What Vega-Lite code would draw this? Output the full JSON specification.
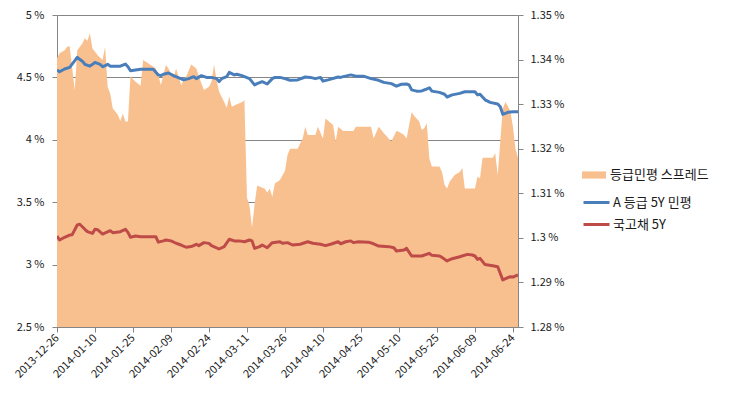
{
  "$schema": "https://vega.github.io/schema/vega-lite/v6.json",
  "autosize": {"type": "none"},
  "width": 461,
  "height": 312,
  "padding": {"left": 57, "top": 15, "right": 216, "bottom": 74},
  "background": "white",
  "config": {
    "font": "Noto Sans CJK KR",
    "view": {"stroke": null},
    "axis": {"labelFont": "Noto Sans CJK KR", "labelFontSize": 11, "labelColor": "#1a1a1a", "domainColor": "#868686", "tickColor": "#868686", "gridColor": "#868686", "gridOpacity": 1, "title": null},
    "legend": {"labelFont": "Noto Sans CJK KR", "labelFontSize": 13, "labelColor": "#1a1a1a"}
  },
  "datasets": {
    "spread": [
      {"date": "2013-12-26", "s": "등급민평 스프레드", "v": 1.3403},
      {"date": "2013-12-27", "s": "등급민평 스프레드", "v": 1.3414},
      {"date": "2013-12-29", "s": "등급민평 스프레드", "v": 1.3421},
      {"date": "2013-12-30", "s": "등급민평 스프레드", "v": 1.3429},
      {"date": "2013-12-31", "s": "등급민평 스프레드", "v": 1.343},
      {"date": "2014-01-02", "s": "등급민평 스프레드", "v": 1.3332},
      {"date": "2014-01-03", "s": "등급민평 스프레드", "v": 1.3421},
      {"date": "2014-01-05", "s": "등급민평 스프레드", "v": 1.3436},
      {"date": "2014-01-06", "s": "등급민평 스프레드", "v": 1.3448},
      {"date": "2014-01-07", "s": "등급민평 스프레드", "v": 1.3442},
      {"date": "2014-01-08", "s": "등급민평 스프레드", "v": 1.3459},
      {"date": "2014-01-09", "s": "등급민평 스프레드", "v": 1.3425},
      {"date": "2014-01-11", "s": "등급민평 스프레드", "v": 1.341},
      {"date": "2014-01-13", "s": "등급민평 스프레드", "v": 1.3399},
      {"date": "2014-01-14", "s": "등급민평 스프레드", "v": 1.3429},
      {"date": "2014-01-15", "s": "등급민평 스프레드", "v": 1.3339},
      {"date": "2014-01-16", "s": "등급민평 스프레드", "v": 1.3324},
      {"date": "2014-01-17", "s": "등급민평 스프레드", "v": 1.3291},
      {"date": "2014-01-19", "s": "등급민평 스프레드", "v": 1.3276},
      {"date": "2014-01-20", "s": "등급민평 스프레드", "v": 1.3262},
      {"date": "2014-01-21", "s": "등급민평 스프레드", "v": 1.3279},
      {"date": "2014-01-22", "s": "등급민평 스프레드", "v": 1.3261},
      {"date": "2014-01-23", "s": "등급민평 스프레드", "v": 1.3261},
      {"date": "2014-01-24", "s": "등급민평 스프레드", "v": 1.3362},
      {"date": "2014-01-26", "s": "등급민평 스프레드", "v": 1.335},
      {"date": "2014-01-28", "s": "등급민평 스프레드", "v": 1.3341},
      {"date": "2014-01-29", "s": "등급민평 스프레드", "v": 1.3399},
      {"date": "2014-01-31", "s": "등급민평 스프레드", "v": 1.3392},
      {"date": "2014-02-03", "s": "등급민평 스프레드", "v": 1.338},
      {"date": "2014-02-04", "s": "등급민평 스프레드", "v": 1.3365},
      {"date": "2014-02-05", "s": "등급민평 스프레드", "v": 1.3343},
      {"date": "2014-02-07", "s": "등급민평 스프레드", "v": 1.3388},
      {"date": "2014-02-08", "s": "등급민평 스프레드", "v": 1.338},
      {"date": "2014-02-10", "s": "등급민평 스프레드", "v": 1.3358},
      {"date": "2014-02-11", "s": "등급민평 스프레드", "v": 1.338},
      {"date": "2014-02-13", "s": "등급민평 스프레드", "v": 1.3343},
      {"date": "2014-02-15", "s": "등급민평 스프레드", "v": 1.3362},
      {"date": "2014-02-17", "s": "등급민평 스프레드", "v": 1.3389},
      {"date": "2014-02-19", "s": "등급민평 스프레드", "v": 1.338},
      {"date": "2014-02-20", "s": "등급민평 스프레드", "v": 1.3362},
      {"date": "2014-02-22", "s": "등급민평 스프레드", "v": 1.3332},
      {"date": "2014-02-24", "s": "등급민평 스프레드", "v": 1.3339},
      {"date": "2014-02-25", "s": "등급민평 스프레드", "v": 1.335},
      {"date": "2014-02-26", "s": "등급민평 스프레드", "v": 1.3389},
      {"date": "2014-02-27", "s": "등급민평 스프레드", "v": 1.3354},
      {"date": "2014-02-28", "s": "등급민평 스프레드", "v": 1.3328},
      {"date": "2014-03-02", "s": "등급민평 스프레드", "v": 1.3305},
      {"date": "2014-03-03", "s": "등급민평 스프레드", "v": 1.3292},
      {"date": "2014-03-04", "s": "등급민평 스프레드", "v": 1.3317},
      {"date": "2014-03-05", "s": "등급민평 스프레드", "v": 1.3294},
      {"date": "2014-03-07", "s": "등급민평 스프레드", "v": 1.33},
      {"date": "2014-03-09", "s": "등급민평 스프레드", "v": 1.3304},
      {"date": "2014-03-10", "s": "등급민평 스프레드", "v": 1.3309},
      {"date": "2014-03-11", "s": "등급민평 스프레드", "v": 1.309},
      {"date": "2014-03-12", "s": "등급민평 스프레드", "v": 1.3072},
      {"date": "2014-03-13", "s": "등급민평 스프레드", "v": 1.3023},
      {"date": "2014-03-14", "s": "등급민평 스프레드", "v": 1.3075},
      {"date": "2014-03-15", "s": "등급민평 스프레드", "v": 1.3117},
      {"date": "2014-03-16", "s": "등급민평 스프레드", "v": 1.3115},
      {"date": "2014-03-18", "s": "등급민평 스프레드", "v": 1.311},
      {"date": "2014-03-19", "s": "등급민평 스프레드", "v": 1.3102},
      {"date": "2014-03-20", "s": "등급민평 스프레드", "v": 1.3111},
      {"date": "2014-03-21", "s": "등급민평 스프레드", "v": 1.3092},
      {"date": "2014-03-22", "s": "등급민평 스프레드", "v": 1.3122},
      {"date": "2014-03-24", "s": "등급민평 스프레드", "v": 1.313},
      {"date": "2014-03-26", "s": "등급민평 스프레드", "v": 1.315},
      {"date": "2014-03-27", "s": "등급민평 스프레드", "v": 1.3186},
      {"date": "2014-03-28", "s": "등급민평 스프레드", "v": 1.32},
      {"date": "2014-03-31", "s": "등급민평 스프레드", "v": 1.32},
      {"date": "2014-04-02", "s": "등급민평 스프레드", "v": 1.3223},
      {"date": "2014-04-03", "s": "등급민평 스프레드", "v": 1.3249},
      {"date": "2014-04-04", "s": "등급민평 스프레드", "v": 1.3231},
      {"date": "2014-04-07", "s": "등급민평 스프레드", "v": 1.3231},
      {"date": "2014-04-08", "s": "등급민평 스프레드", "v": 1.3249},
      {"date": "2014-04-10", "s": "등급민평 스프레드", "v": 1.3223},
      {"date": "2014-04-11", "s": "등급민평 스프레드", "v": 1.3268},
      {"date": "2014-04-14", "s": "등급민평 스프레드", "v": 1.3253},
      {"date": "2014-04-15", "s": "등급민평 스프레드", "v": 1.3216},
      {"date": "2014-04-16", "s": "등급민평 스프레드", "v": 1.3249},
      {"date": "2014-04-18", "s": "등급민평 스프레드", "v": 1.324},
      {"date": "2014-04-22", "s": "등급민평 스프레드", "v": 1.324},
      {"date": "2014-04-23", "s": "등급민평 스프레드", "v": 1.3249},
      {"date": "2014-04-29", "s": "등급민평 스프레드", "v": 1.3249},
      {"date": "2014-04-30", "s": "등급민평 스프레드", "v": 1.3223},
      {"date": "2014-05-02", "s": "등급민평 스프레드", "v": 1.3249},
      {"date": "2014-05-04", "s": "등급민평 스프레드", "v": 1.3235},
      {"date": "2014-05-07", "s": "등급민평 스프레드", "v": 1.3216},
      {"date": "2014-05-09", "s": "등급민평 스프레드", "v": 1.324},
      {"date": "2014-05-10", "s": "등급민평 스프레드", "v": 1.3238},
      {"date": "2014-05-12", "s": "등급민평 스프레드", "v": 1.3231},
      {"date": "2014-05-13", "s": "등급민평 스프레드", "v": 1.3223},
      {"date": "2014-05-15", "s": "등급민평 스프레드", "v": 1.3282},
      {"date": "2014-05-16", "s": "등급민평 스프레드", "v": 1.3274},
      {"date": "2014-05-18", "s": "등급민평 스프레드", "v": 1.3261},
      {"date": "2014-05-19", "s": "등급민평 스프레드", "v": 1.3242},
      {"date": "2014-05-20", "s": "등급민평 스프레드", "v": 1.3246},
      {"date": "2014-05-21", "s": "등급민평 스프레드", "v": 1.3257},
      {"date": "2014-05-22", "s": "등급민평 스프레드", "v": 1.3178},
      {"date": "2014-05-23", "s": "등급민평 스프레드", "v": 1.316},
      {"date": "2014-05-26", "s": "등급민평 스프레드", "v": 1.316},
      {"date": "2014-05-27", "s": "등급민평 스프레드", "v": 1.3148},
      {"date": "2014-05-28", "s": "등급민평 스프레드", "v": 1.3119},
      {"date": "2014-05-29", "s": "등급민평 스프레드", "v": 1.3111},
      {"date": "2014-05-30", "s": "등급민평 스프레드", "v": 1.3126},
      {"date": "2014-06-01", "s": "등급민평 스프레드", "v": 1.3141},
      {"date": "2014-06-03", "s": "등급민평 스프레드", "v": 1.3148},
      {"date": "2014-06-04", "s": "등급민평 스프레드", "v": 1.3157},
      {"date": "2014-06-05", "s": "등급민평 스프레드", "v": 1.3111},
      {"date": "2014-06-09", "s": "등급민평 스프레드", "v": 1.3111},
      {"date": "2014-06-10", "s": "등급민평 스프레드", "v": 1.3137},
      {"date": "2014-06-11", "s": "등급민평 스프레드", "v": 1.3134},
      {"date": "2014-06-12", "s": "등급민평 스프레드", "v": 1.318},
      {"date": "2014-06-16", "s": "등급민평 스프레드", "v": 1.318},
      {"date": "2014-06-17", "s": "등급민평 스프레드", "v": 1.319},
      {"date": "2014-06-18", "s": "등급민평 스프레드", "v": 1.3141},
      {"date": "2014-06-19", "s": "등급민평 스프레드", "v": 1.3216},
      {"date": "2014-06-20", "s": "등급민평 스프레드", "v": 1.329},
      {"date": "2014-06-21", "s": "등급민평 스프레드", "v": 1.3305},
      {"date": "2014-06-22", "s": "등급민평 스프레드", "v": 1.3296},
      {"date": "2014-06-23", "s": "등급민평 스프레드", "v": 1.3283},
      {"date": "2014-06-24", "s": "등급민평 스프레드", "v": 1.325},
      {"date": "2014-06-25", "s": "등급민평 스프레드", "v": 1.32},
      {"date": "2014-06-26", "s": "등급민평 스프레드", "v": 1.318}
    ],
    "lines": [
      {"date": "2013-12-26", "s": "A 등급 5Y 민평", "v": 4.56},
      {"date": "2013-12-27", "s": "A 등급 5Y 민평", "v": 4.545},
      {"date": "2013-12-29", "s": "A 등급 5Y 민평", "v": 4.567},
      {"date": "2013-12-31", "s": "A 등급 5Y 민평", "v": 4.58},
      {"date": "2014-01-03", "s": "A 등급 5Y 민평", "v": 4.66},
      {"date": "2014-01-05", "s": "A 등급 5Y 민평", "v": 4.63},
      {"date": "2014-01-06", "s": "A 등급 5Y 민평", "v": 4.605},
      {"date": "2014-01-08", "s": "A 등급 5Y 민평", "v": 4.59},
      {"date": "2014-01-10", "s": "A 등급 5Y 민평", "v": 4.62},
      {"date": "2014-01-12", "s": "A 등급 5Y 민평", "v": 4.605},
      {"date": "2014-01-13", "s": "A 등급 5Y 민평", "v": 4.585},
      {"date": "2014-01-15", "s": "A 등급 5Y 민평", "v": 4.605},
      {"date": "2014-01-16", "s": "A 등급 5Y 민평", "v": 4.59},
      {"date": "2014-01-20", "s": "A 등급 5Y 민평", "v": 4.59},
      {"date": "2014-01-22", "s": "A 등급 5Y 민평", "v": 4.607},
      {"date": "2014-01-23", "s": "A 등급 5Y 민평", "v": 4.585},
      {"date": "2014-01-24", "s": "A 등급 5Y 민평", "v": 4.554},
      {"date": "2014-01-28", "s": "A 등급 5Y 민평", "v": 4.565},
      {"date": "2014-02-02", "s": "A 등급 5Y 민평", "v": 4.565},
      {"date": "2014-02-04", "s": "A 등급 5Y 민평", "v": 4.52},
      {"date": "2014-02-05", "s": "A 등급 5Y 민평", "v": 4.514},
      {"date": "2014-02-06", "s": "A 등급 5Y 민평", "v": 4.525},
      {"date": "2014-02-08", "s": "A 등급 5Y 민평", "v": 4.535},
      {"date": "2014-02-10", "s": "A 등급 5Y 민평", "v": 4.514},
      {"date": "2014-02-14", "s": "A 등급 5Y 민평", "v": 4.48},
      {"date": "2014-02-16", "s": "A 등급 5Y 민평", "v": 4.49},
      {"date": "2014-02-18", "s": "A 등급 5Y 민평", "v": 4.506},
      {"date": "2014-02-19", "s": "A 등급 5Y 민평", "v": 4.49},
      {"date": "2014-02-21", "s": "A 등급 5Y 민평", "v": 4.514},
      {"date": "2014-02-23", "s": "A 등급 5Y 민평", "v": 4.5},
      {"date": "2014-02-25", "s": "A 등급 5Y 민평", "v": 4.5},
      {"date": "2014-02-27", "s": "A 등급 5Y 민평", "v": 4.49},
      {"date": "2014-02-28", "s": "A 등급 5Y 민평", "v": 4.466},
      {"date": "2014-03-01", "s": "A 등급 5Y 민평", "v": 4.49},
      {"date": "2014-03-03", "s": "A 등급 5Y 민평", "v": 4.506},
      {"date": "2014-03-04", "s": "A 등급 5Y 민평", "v": 4.54},
      {"date": "2014-03-06", "s": "A 등급 5Y 민평", "v": 4.52},
      {"date": "2014-03-07", "s": "A 등급 5Y 민평", "v": 4.525},
      {"date": "2014-03-09", "s": "A 등급 5Y 민평", "v": 4.514},
      {"date": "2014-03-12", "s": "A 등급 5Y 민평", "v": 4.49},
      {"date": "2014-03-14", "s": "A 등급 5Y 민평", "v": 4.44},
      {"date": "2014-03-15", "s": "A 등급 5Y 민평", "v": 4.45},
      {"date": "2014-03-17", "s": "A 등급 5Y 민평", "v": 4.466},
      {"date": "2014-03-19", "s": "A 등급 5Y 민평", "v": 4.447},
      {"date": "2014-03-21", "s": "A 등급 5Y 민평", "v": 4.49},
      {"date": "2014-03-22", "s": "A 등급 5Y 민평", "v": 4.5},
      {"date": "2014-03-24", "s": "A 등급 5Y 민평", "v": 4.5},
      {"date": "2014-03-26", "s": "A 등급 5Y 민평", "v": 4.49},
      {"date": "2014-03-28", "s": "A 등급 5Y 민평", "v": 4.477},
      {"date": "2014-03-31", "s": "A 등급 5Y 민평", "v": 4.48},
      {"date": "2014-04-03", "s": "A 등급 5Y 민평", "v": 4.503},
      {"date": "2014-04-05", "s": "A 등급 5Y 민평", "v": 4.5},
      {"date": "2014-04-07", "s": "A 등급 5Y 민평", "v": 4.49},
      {"date": "2014-04-09", "s": "A 등급 5Y 민평", "v": 4.5},
      {"date": "2014-04-10", "s": "A 등급 5Y 민평", "v": 4.47},
      {"date": "2014-04-12", "s": "A 등급 5Y 민평", "v": 4.48},
      {"date": "2014-04-16", "s": "A 등급 5Y 민평", "v": 4.503},
      {"date": "2014-04-17", "s": "A 등급 5Y 민평", "v": 4.5},
      {"date": "2014-04-18", "s": "A 등급 5Y 민평", "v": 4.506},
      {"date": "2014-04-21", "s": "A 등급 5Y 민평", "v": 4.52},
      {"date": "2014-04-23", "s": "A 등급 5Y 민평", "v": 4.51},
      {"date": "2014-04-26", "s": "A 등급 5Y 민평", "v": 4.51},
      {"date": "2014-04-29", "s": "A 등급 5Y 민평", "v": 4.49},
      {"date": "2014-05-02", "s": "A 등급 5Y 민평", "v": 4.477},
      {"date": "2014-05-04", "s": "A 등급 5Y 민평", "v": 4.46},
      {"date": "2014-05-07", "s": "A 등급 5Y 민평", "v": 4.45},
      {"date": "2014-05-09", "s": "A 등급 5Y 민평", "v": 4.43},
      {"date": "2014-05-11", "s": "A 등급 5Y 민평", "v": 4.445},
      {"date": "2014-05-13", "s": "A 등급 5Y 민평", "v": 4.447},
      {"date": "2014-05-14", "s": "A 등급 5Y 민평", "v": 4.44},
      {"date": "2014-05-15", "s": "A 등급 5Y 민평", "v": 4.4},
      {"date": "2014-05-17", "s": "A 등급 5Y 민평", "v": 4.39},
      {"date": "2014-05-19", "s": "A 등급 5Y 민평", "v": 4.392},
      {"date": "2014-05-21", "s": "A 등급 5Y 민평", "v": 4.407},
      {"date": "2014-05-22", "s": "A 등급 5Y 민평", "v": 4.417},
      {"date": "2014-05-23", "s": "A 등급 5Y 민평", "v": 4.39},
      {"date": "2014-05-26", "s": "A 등급 5Y 민평", "v": 4.38},
      {"date": "2014-05-28", "s": "A 등급 5Y 민평", "v": 4.365},
      {"date": "2014-05-29", "s": "A 등급 5Y 민평", "v": 4.343},
      {"date": "2014-05-31", "s": "A 등급 5Y 민평", "v": 4.36},
      {"date": "2014-06-03", "s": "A 등급 5Y 민평", "v": 4.372},
      {"date": "2014-06-05", "s": "A 등급 5Y 민평", "v": 4.385},
      {"date": "2014-06-09", "s": "A 등급 5Y 민평", "v": 4.385},
      {"date": "2014-06-10", "s": "A 등급 5Y 민평", "v": 4.36},
      {"date": "2014-06-11", "s": "A 등급 5Y 민평", "v": 4.365},
      {"date": "2014-06-13", "s": "A 등급 5Y 민평", "v": 4.32},
      {"date": "2014-06-15", "s": "A 등급 5Y 민평", "v": 4.3},
      {"date": "2014-06-18", "s": "A 등급 5Y 민평", "v": 4.287},
      {"date": "2014-06-19", "s": "A 등급 5Y 민평", "v": 4.265},
      {"date": "2014-06-20", "s": "A 등급 5Y 민평", "v": 4.204},
      {"date": "2014-06-22", "s": "A 등급 5Y 민평", "v": 4.22},
      {"date": "2014-06-24", "s": "A 등급 5Y 민평", "v": 4.225},
      {"date": "2014-06-26", "s": "A 등급 5Y 민평", "v": 4.225},
      {"date": "2013-12-26", "s": "국고채 5Y", "v": 3.229},
      {"date": "2013-12-27", "s": "국고채 5Y", "v": 3.197},
      {"date": "2013-12-29", "s": "국고채 5Y", "v": 3.219},
      {"date": "2013-12-31", "s": "국고채 5Y", "v": 3.237},
      {"date": "2014-01-01", "s": "국고채 5Y", "v": 3.24},
      {"date": "2014-01-03", "s": "국고채 5Y", "v": 3.317},
      {"date": "2014-01-04", "s": "국고채 5Y", "v": 3.323},
      {"date": "2014-01-06", "s": "국고채 5Y", "v": 3.283},
      {"date": "2014-01-07", "s": "국고채 5Y", "v": 3.264},
      {"date": "2014-01-09", "s": "국고채 5Y", "v": 3.25},
      {"date": "2014-01-10", "s": "국고채 5Y", "v": 3.283},
      {"date": "2014-01-11", "s": "국고채 5Y", "v": 3.28},
      {"date": "2014-01-13", "s": "국고채 5Y", "v": 3.245},
      {"date": "2014-01-16", "s": "국고채 5Y", "v": 3.272},
      {"date": "2014-01-17", "s": "국고채 5Y", "v": 3.256},
      {"date": "2014-01-20", "s": "국고채 5Y", "v": 3.264},
      {"date": "2014-01-22", "s": "국고채 5Y", "v": 3.283},
      {"date": "2014-01-23", "s": "국고채 5Y", "v": 3.258},
      {"date": "2014-01-24", "s": "국고채 5Y", "v": 3.219},
      {"date": "2014-01-26", "s": "국고채 5Y", "v": 3.229},
      {"date": "2014-01-28", "s": "국고채 5Y", "v": 3.224},
      {"date": "2014-02-03", "s": "국고채 5Y", "v": 3.224},
      {"date": "2014-02-04", "s": "국고채 5Y", "v": 3.18},
      {"date": "2014-02-06", "s": "국고채 5Y", "v": 3.19},
      {"date": "2014-02-07", "s": "국고채 5Y", "v": 3.197},
      {"date": "2014-02-09", "s": "국고채 5Y", "v": 3.19},
      {"date": "2014-02-11", "s": "국고채 5Y", "v": 3.171},
      {"date": "2014-02-13", "s": "국고채 5Y", "v": 3.157},
      {"date": "2014-02-15", "s": "국고채 5Y", "v": 3.139},
      {"date": "2014-02-17", "s": "국고채 5Y", "v": 3.145},
      {"date": "2014-02-19", "s": "국고채 5Y", "v": 3.163},
      {"date": "2014-02-20", "s": "국고채 5Y", "v": 3.152},
      {"date": "2014-02-22", "s": "국고채 5Y", "v": 3.176},
      {"date": "2014-02-24", "s": "국고채 5Y", "v": 3.17},
      {"date": "2014-02-25", "s": "국고채 5Y", "v": 3.152},
      {"date": "2014-02-28", "s": "국고채 5Y", "v": 3.125},
      {"date": "2014-03-02", "s": "국고채 5Y", "v": 3.144},
      {"date": "2014-03-04", "s": "국고채 5Y", "v": 3.203},
      {"date": "2014-03-06", "s": "국고채 5Y", "v": 3.19},
      {"date": "2014-03-08", "s": "국고채 5Y", "v": 3.19},
      {"date": "2014-03-10", "s": "국고채 5Y", "v": 3.183},
      {"date": "2014-03-12", "s": "국고채 5Y", "v": 3.197},
      {"date": "2014-03-13", "s": "국고채 5Y", "v": 3.19},
      {"date": "2014-03-14", "s": "국고채 5Y", "v": 3.13},
      {"date": "2014-03-16", "s": "국고채 5Y", "v": 3.144},
      {"date": "2014-03-17", "s": "국고채 5Y", "v": 3.157},
      {"date": "2014-03-19", "s": "국고채 5Y", "v": 3.135},
      {"date": "2014-03-21", "s": "국고채 5Y", "v": 3.176},
      {"date": "2014-03-24", "s": "국고채 5Y", "v": 3.183},
      {"date": "2014-03-25", "s": "국고채 5Y", "v": 3.171},
      {"date": "2014-03-27", "s": "국고채 5Y", "v": 3.176},
      {"date": "2014-03-29", "s": "국고채 5Y", "v": 3.157},
      {"date": "2014-04-01", "s": "국고채 5Y", "v": 3.163},
      {"date": "2014-04-04", "s": "국고채 5Y", "v": 3.183},
      {"date": "2014-04-06", "s": "국고채 5Y", "v": 3.171},
      {"date": "2014-04-09", "s": "국고채 5Y", "v": 3.163},
      {"date": "2014-04-11", "s": "국고채 5Y", "v": 3.152},
      {"date": "2014-04-13", "s": "국고채 5Y", "v": 3.163},
      {"date": "2014-04-16", "s": "국고채 5Y", "v": 3.183},
      {"date": "2014-04-17", "s": "국고채 5Y", "v": 3.167},
      {"date": "2014-04-19", "s": "국고채 5Y", "v": 3.183},
      {"date": "2014-04-21", "s": "국고채 5Y", "v": 3.19},
      {"date": "2014-04-22", "s": "국고채 5Y", "v": 3.176},
      {"date": "2014-04-24", "s": "국고채 5Y", "v": 3.183},
      {"date": "2014-04-28", "s": "국고채 5Y", "v": 3.18},
      {"date": "2014-04-30", "s": "국고채 5Y", "v": 3.167},
      {"date": "2014-05-02", "s": "국고채 5Y", "v": 3.149},
      {"date": "2014-05-06", "s": "국고채 5Y", "v": 3.144},
      {"date": "2014-05-08", "s": "국고채 5Y", "v": 3.135},
      {"date": "2014-05-09", "s": "국고채 5Y", "v": 3.109},
      {"date": "2014-05-12", "s": "국고채 5Y", "v": 3.117},
      {"date": "2014-05-13", "s": "국고채 5Y", "v": 3.13},
      {"date": "2014-05-15", "s": "국고채 5Y", "v": 3.069},
      {"date": "2014-05-17", "s": "국고채 5Y", "v": 3.069},
      {"date": "2014-05-19", "s": "국고채 5Y", "v": 3.069},
      {"date": "2014-05-22", "s": "국고채 5Y", "v": 3.09},
      {"date": "2014-05-23", "s": "국고채 5Y", "v": 3.074},
      {"date": "2014-05-26", "s": "국고채 5Y", "v": 3.069},
      {"date": "2014-05-27", "s": "국고채 5Y", "v": 3.058},
      {"date": "2014-05-29", "s": "국고채 5Y", "v": 3.029},
      {"date": "2014-05-31", "s": "국고채 5Y", "v": 3.047},
      {"date": "2014-06-03", "s": "국고채 5Y", "v": 3.063},
      {"date": "2014-06-06", "s": "국고채 5Y", "v": 3.082},
      {"date": "2014-06-08", "s": "국고채 5Y", "v": 3.077},
      {"date": "2014-06-09", "s": "국고채 5Y", "v": 3.069},
      {"date": "2014-06-10", "s": "국고채 5Y", "v": 3.042},
      {"date": "2014-06-11", "s": "국고채 5Y", "v": 3.05},
      {"date": "2014-06-13", "s": "국고채 5Y", "v": 3.0},
      {"date": "2014-06-16", "s": "국고채 5Y", "v": 2.99},
      {"date": "2014-06-18", "s": "국고채 5Y", "v": 2.983},
      {"date": "2014-06-20", "s": "국고채 5Y", "v": 2.877},
      {"date": "2014-06-22", "s": "국고채 5Y", "v": 2.895},
      {"date": "2014-06-23", "s": "국고채 5Y", "v": 2.903},
      {"date": "2014-06-24", "s": "국고채 5Y", "v": 2.9},
      {"date": "2014-06-26", "s": "국고채 5Y", "v": 2.917}
    ]
  },
  "encoding": {
    "x": {
      "field": "date",
      "type": "temporal",
      "scale": {"type": "utc", "domain": [{"year": 2013, "month": 12, "date": 26, "utc": true}, {"year": 2014, "month": 6, "date": 26, "utc": true}]},
      "axis": {
        "values": [
          {"year": 2013, "month": 12, "date": 26, "utc": true},
          {"year": 2014, "month": 1, "date": 10, "utc": true},
          {"year": 2014, "month": 1, "date": 25, "utc": true},
          {"year": 2014, "month": 2, "date": 9, "utc": true},
          {"year": 2014, "month": 2, "date": 24, "utc": true},
          {"year": 2014, "month": 3, "date": 11, "utc": true},
          {"year": 2014, "month": 3, "date": 26, "utc": true},
          {"year": 2014, "month": 4, "date": 10, "utc": true},
          {"year": 2014, "month": 4, "date": 25, "utc": true},
          {"year": 2014, "month": 5, "date": 10, "utc": true},
          {"year": 2014, "month": 5, "date": 25, "utc": true},
          {"year": 2014, "month": 6, "date": 9, "utc": true},
          {"year": 2014, "month": 6, "date": 24, "utc": true}
        ],
        "format": "%Y-%m-%d",
        "labelAngle": -45,
        "labelAlign": "right",
        "labelBaseline": "middle",
        "labelPadding": 4,
        "tickSize": 5,
        "grid": false,
        "labelOverlap": false,
        "labelFlush": false
      }
    }
  },
  "layer": [
    {
      "data": {"name": "spread"},
      "mark": {"type": "area", "clip": true, "interpolate": "linear"},
      "encoding": {
        "y": {
          "field": "v",
          "type": "quantitative",
          "scale": {"domain": [1.28, 1.35], "zero": false, "nice": false},
          "axis": {"orient": "right", "values": [1.28, 1.29, 1.3, 1.31, 1.32, 1.33, 1.34, 1.35], "labelExpr": "format(datum.value, '.2~f') + ' %'", "grid": false, "tickSize": 5, "labelPadding": 7, "labelFlush": false}
        },
        "y2": {"datum": 1.28},
        "fill": {
          "field": "s",
          "type": "nominal",
          "scale": {"domain": ["등급민평 스프레드"], "range": ["#F9C08F"]},
          "legend": {"orient": "none", "legendX": 525, "legendY": 148, "title": null, "symbolType": "M-1,-0.3H1V0.3H-1Z", "symbolSize": 576, "symbolStrokeWidth": 0, "symbolOpacity": 1, "labelOffset": 4}
        }
      }
    },
    {
      "data": {"name": "lines"},
      "mark": {"type": "line", "strokeWidth": 3, "clip": true, "strokeJoin": "round"},
      "encoding": {
        "y": {
          "field": "v",
          "type": "quantitative",
          "scale": {"domain": [2.5, 5], "zero": false, "nice": false},
          "axis": {"orient": "left", "values": [2.5, 3, 3.5, 4, 4.5, 5], "labelExpr": "format(datum.value, '.1~f') + ' %'", "grid": true, "tickSize": 5, "labelPadding": 8, "labelFlush": false}
        },
        "stroke": {
          "field": "s",
          "type": "nominal",
          "scale": {"domain": ["A 등급 5Y 민평", "국고채 5Y"], "range": ["#4A7EBB", "#BE4B48"]},
          "legend": {"orient": "none", "legendX": 525, "legendY": 173, "title": null, "symbolType": "stroke", "symbolSize": 676, "symbolStrokeWidth": 3, "rowPadding": 0, "labelOffset": 2}
        }
      }
    }
  ],
  "resolve": {"scale": {"y": "independent"}}
}
